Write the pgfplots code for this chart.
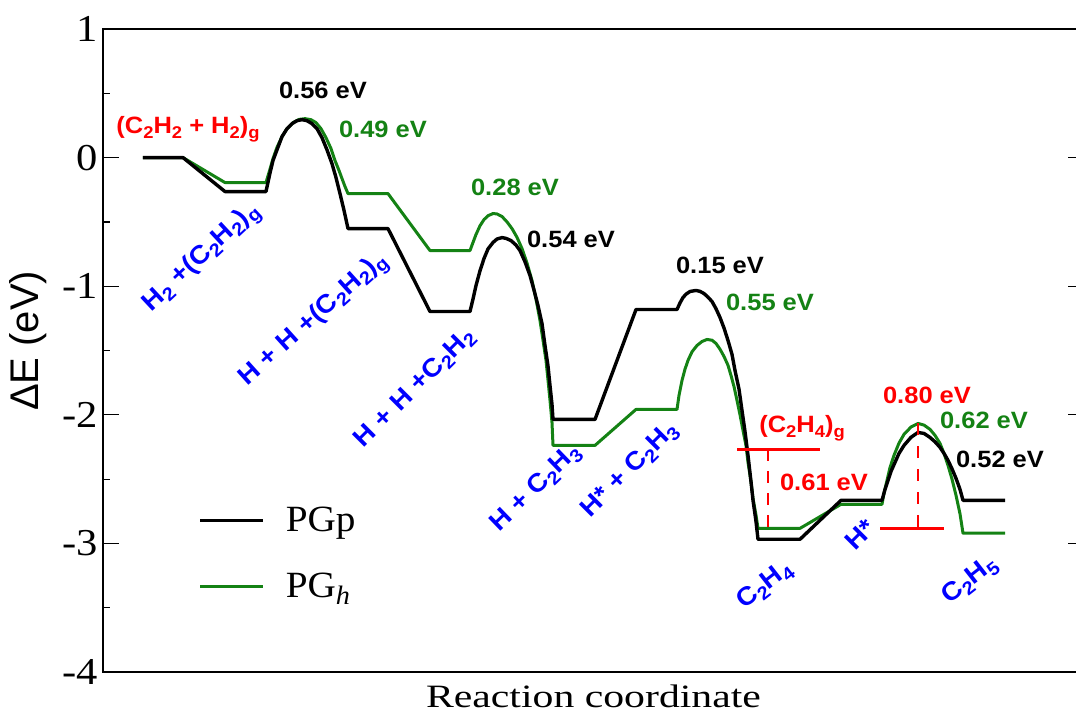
\documentclass[border=0pt]{standalone}
\usepackage{fontspec}
\usepackage{graphicx}
\usepackage{pgfplots}
\pgfplotsset{compat=1.18}
\setmainfont{Liberation Serif}
\newfontfamily\serifw[FakeStretch=1.12]{Liberation Serif}
\newfontfamily\legfont[FakeStretch=1.06]{Liberation Serif}
\newfontfamily\xlabfont[FakeStretch=1.28]{Liberation Serif}
\newfontfamily\annot[FakeStretch=1.08]{Liberation Sans}
\newfontfamily\ylabfont{Liberation Sans}
\definecolor{pggreen}{RGB}{20,130,20}
\newcommand{\sub}[1]{\raisebox{-0.38ex}{\scalebox{0.72}{#1}}}
\newcommand{\A}{\annot\bfseries\fontsize{11.8}{12}\selectfont}
\newcommand{\B}{\annot\bfseries\fontsize{12.8}{13}\selectfont}
\begin{document}
\begin{tikzpicture}
\useasboundingbox (-51.5pt,-20.5pt) rectangle (486.5pt,336pt);
\begin{axis}[
  at={(0pt,0pt)}, anchor=south west,
  scale only axis, width=490.5pt, height=321.5pt,
  xmin=103, xmax=1084, ymin=-4, ymax=1,
  clip=false,
  xtick=\empty,
  ytick={-4,-3,-2,-1,0,1},
  yticklabels={-4,-3,-2,-1,0,1},
  minor ytick={-3.5,-2.5,-1.5,-0.5,0.5},
  tick align=inside,
  major tick length=8pt, minor tick length=3.5pt,
  every tick/.style={black, line width=0.6pt},
  axis line style={line width=1pt},
  yticklabel style={font=\serifw\fontsize{19}{19}\selectfont, inner sep=2.5pt},
  xlabel={Reaction coordinate},
  xlabel style={font=\xlabfont\fontsize{16.3}{16.3}\selectfont, at={(axis description cs:0.5,0)}, anchor=north, inner sep=0pt, yshift=-6pt},
  ylabel={ΔE (eV)},
  ylabel style={font=\ylabfont\fontsize{20}{20}\selectfont, at={(axis description cs:-0.0765,0.515)}, anchor=center, inner sep=0pt},
  legend style={draw=none, fill=none, at={(axis cs:198,-2.695)}, anchor=north west, inner sep=0pt,
    nodes={inner sep=1pt}, row sep=17.5pt,
    font=\legfont\fontsize{18.5}{18.5}\selectfont},
  legend cell align=left,
  legend image code/.code={\draw[#1] (0pt,0pt) -- (31.5pt,0pt); \path (41pt,0pt);},
]
% green (PG_h) drawn first, black on top
\addplot[pggreen, line width=1.5pt, line join=round, forget plot] coordinates {
(143,0)(183,0)(225,-0.194)(266,-0.194)(270,-0.09)(273,-0.008)(277,0.08)(282,0.163)(287,0.225)(293,0.272)(299,0.297)(305,0.303)(311,0.295)(316,0.272)(321,0.225)(326,0.155)(331,0.07)(335,-0.023)(339,-0.10)(342,-0.163)(345,-0.225)(348,-0.280)
(388,-0.280)(430,-0.723)(470,-0.723)(473,-0.66)(476,-0.598)(480,-0.53)(484,-0.482)(488,-0.452)(493,-0.435)(497,-0.438)(502,-0.458)(507,-0.5)(512,-0.552)(517,-0.62)(522,-0.707)(527,-0.82)(532,-0.956)(536,-1.10)(540,-1.267)(543,-1.42)(546,-1.577)(548,-1.73)(550,-1.888)(552,-2.06)(553,-2.238)
(595,-2.238)(636,-1.958)(677,-1.958)(679,-1.85)(682,-1.733)(685,-1.645)(688,-1.577)(692,-1.51)(697,-1.461)(702,-1.43)(707,-1.414)(712,-1.42)(716,-1.445)(720,-1.49)(724,-1.546)(728,-1.615)(731,-1.694)(734,-1.78)(737,-1.888)(740,-2.00)(743,-2.121)(746,-2.24)(748,-2.370)(751,-2.52)(753,-2.650)(756,-2.78)(758,-2.883)
(800,-2.883)(841,-2.696)(882,-2.696)(884,-2.61)(887,-2.510)(890,-2.41)(894,-2.315)(899,-2.22)(904,-2.152)(911,-2.095)(918,-2.067)(924,-2.08)(930,-2.113)(935,-2.16)(940,-2.222)(944,-2.30)(948,-2.393)(952,-2.50)(956,-2.626)(960,-2.77)(963,-2.921)(1005,-2.921)
};
\addplot[black, line width=1.7pt, line join=round] coordinates {
(143,0)(183,0)(225,-0.264)(266,-0.264)(270,-0.12)(273,-0.023)(277,0.06)(282,0.163)(287,0.225)(292,0.264)(297,0.287)(302,0.295)(307,0.287)(312,0.264)(317,0.225)(322,0.155)(327,0.06)(332,-0.047)(336,-0.155)(340,-0.280)(344,-0.41)(348,-0.552)
(388,-0.552)(430,-1.197)(470,-1.197)(473,-1.10)(476,-0.995)(480,-0.88)(484,-0.785)(488,-0.71)(493,-0.660)(497,-0.633)(502,-0.622)(506,-0.628)(511,-0.645)(516,-0.68)(520,-0.723)(525,-0.81)(530,-0.917)(534,-1.03)(538,-1.150)(542,-1.29)(545,-1.461)(548,-1.62)(550,-1.772)(552,-1.92)(553,-2.036)
(595,-2.036)(636,-1.181)(677,-1.181)(680,-1.13)(683,-1.088)(686,-1.062)(690,-1.041)(696,-1.033)(700,-1.04)(704,-1.057)(708,-1.085)(712,-1.119)(716,-1.175)(720,-1.243)(724,-1.325)(728,-1.422)(732,-1.53)(735,-1.655)(739,-1.80)(742,-1.966)(745,-2.13)(748,-2.315)(751,-2.52)(753,-2.665)(756,-2.83)(758,-2.968)
(800,-2.968)(841,-2.665)(882,-2.665)(885,-2.58)(888,-2.510)(891,-2.44)(895,-2.370)(899,-2.30)(904,-2.238)(911,-2.175)(918,-2.137)(924,-2.145)(930,-2.176)(935,-2.21)(940,-2.253)(944,-2.30)(948,-2.354)(952,-2.42)(956,-2.494)(960,-2.58)(963,-2.665)(1005,-2.665)
};
\addlegendentry{PGp}
\addlegendimage{pggreen, line width=1.5pt}
\addlegendentry{PG\sub{\itshape h}}
% red reference lines
\addplot[red, line width=1.3pt, forget plot] coordinates {(737,-2.269)(820,-2.269)};
\addplot[red, line width=1.3pt, dash pattern=on 6pt off 5pt, forget plot] coordinates {(768,-2.269)(768,-2.883)};
\addplot[red, line width=1.3pt, forget plot] coordinates {(880,-2.883)(944,-2.883)};
\addplot[red, line width=1.3pt, dash pattern=on 6pt off 5.5pt, forget plot] coordinates {(918,-2.067)(918,-2.883)};
% annotations
\begin{scope}[every node/.style={inner sep=0pt, anchor=base}]
\node[text=red] at (axis cs:188,0.186) {\A (C\sub{2}H\sub{2} + H\sub{2})\sub{g}};
\node[text=black] at (axis cs:323,0.458) {\A 0.56 eV};
\node[text=pggreen] at (axis cs:383,0.155) {\A 0.49 eV};
\node[text=pggreen] at (axis cs:515,-0.295) {\A 0.28 eV};
\node[text=black] at (axis cs:571,-0.699) {\A 0.54 eV};
\node[text=black] at (axis cs:720,-0.901) {\A 0.15 eV};
\node[text=pggreen] at (axis cs:770,-1.189) {\A 0.55 eV};
\node[text=red] at (axis cs:802,-2.137) {\A (C\sub{2}H\sub{4})\sub{g}};
\node[text=red] at (axis cs:824,-2.587) {\A 0.61 eV};
\node[text=red] at (axis cs:927,-1.911) {\A 0.80 eV};
\node[text=pggreen] at (axis cs:984,-2.106) {\A 0.62 eV};
\node[text=black] at (axis cs:1000,-2.409) {\A 0.52 eV};
\end{scope}
\begin{scope}[every node/.style={inner sep=0pt, anchor=center, text=blue}]
\node[rotate=43] at (axis cs:202,-0.785) {\B H\sub{2} +(C\sub{2}H\sub{2})\sub{g}};
\node[rotate=42] at (axis cs:314,-1.267) {\B H + H +(C\sub{2}H\sub{2})\sub{g}};
\node[rotate=45] at (axis cs:415,-1.795) {\B H + H +C\sub{2}H\sub{2}};
\node[rotate=44] at (axis cs:536,-2.572) {\B H + C\sub{2}H\sub{3}};
\node[rotate=45] at (axis cs:630,-2.432) {\B H* + C\sub{2}H\sub{3}};
\node[rotate=38] at (axis cs:765,-3.326) {\B C\sub{2}H\sub{4}};
\node[rotate=45] at (axis cs:860,-2.929) {\B H*};
\node[rotate=38] at (axis cs:970,-3.287) {\B C\sub{2}H\sub{5}};
\end{scope}
\end{axis}
\end{tikzpicture}
\end{document}
